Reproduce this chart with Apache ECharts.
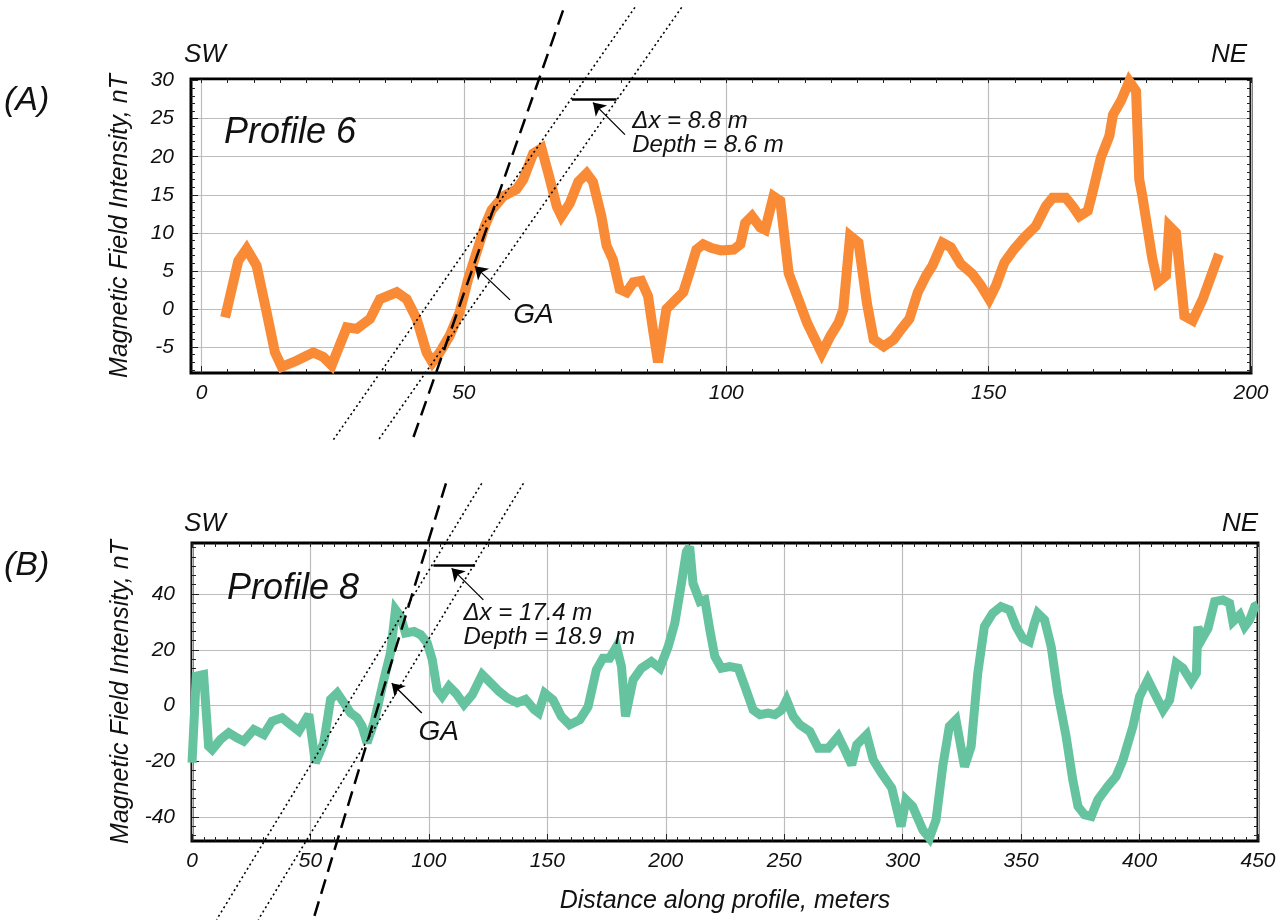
<!DOCTYPE html>
<html>
<head>
<meta charset="utf-8">
<title>Magnetic profiles 6 and 8</title>
<script src="https://cdn.jsdelivr.net/npm/echarts@6/dist/echarts.min.js"></script>
<style>
  html, body { margin: 0; padding: 0; background: #fff; }
  #main { width: 1285px; height: 922px; }
</style>
</head>
<body>
<div id="main"></div>
<script>
// Profile 6 (panel A), distance in m / field in nT
var profile6X = [4.5, 7.0, 8.6, 10.5, 12.4, 14.0, 15.3, 18.1, 21.3, 23.2, 24.8, 27.7, 29.6, 32.1, 34.0, 37.2, 39.1, 41.0, 42.9, 44.0,
  45.4, 47.3, 49.2, 50.8, 52.4, 54.0, 55.3, 57.5, 60.0, 61.3, 63.2, 64.8, 66.1, 67.7, 68.6, 70.2, 71.8, 73.4, 74.6, 76.2,
  77.2, 78.4, 79.7, 81.0, 82.3, 83.8, 85.1, 86.1, 87.0, 88.6, 90.5, 91.8, 93.0, 94.3, 95.6, 97.2, 99.0, 101.4, 102.7, 103.6,
  104.9, 106.5, 107.4, 109.0, 110.3, 111.9, 113.5, 115.4, 118.2, 119.8, 121.4, 122.3, 123.6, 125.2, 126.8, 128.1, 130.0, 131.9, 133.4, 134.9,
  136.5, 138.1, 139.3, 141.2, 142.8, 144.7, 146.9, 148.5, 150.1, 151.4, 153.0, 154.9, 156.8, 159.0, 160.9, 162.2, 164.7, 166.0, 167.3, 168.9,
  169.8, 171.4, 173.0, 173.7, 175.2, 176.8, 178.1, 178.7, 179.3, 181.2, 182.2, 183.8, 184.4, 185.7, 187.3, 188.9, 190.8, 193.9];
var profile6Y = [-1.1, 6.3, 7.9, 5.7, -0.4, -5.7, -7.6, -6.8, -5.7, -6.3, -7.4, -2.4, -2.6, -1.3, 1.3, 2.2, 1.3, -1.3, -5.7, -7.0,
  -5.7, -3.5, -0.4, 3.9, 7.4, 10.9, 13.0, 14.8, 15.7, 17.0, 20.4, 21.1, 17.8, 13.5, 12.2, 13.9, 16.7, 17.8, 16.7, 12.2,
  8.3, 6.5, 2.6, 2.2, 3.5, 3.7, 1.7, -3.0, -7.0, 0.0, 1.3, 2.2, 4.8, 7.8, 8.5, 8.0, 7.7, 7.8, 8.5, 11.3,
  12.2, 10.7, 10.4, 14.8, 14.2, 4.7, 1.7, -1.8, -5.8, -3.6, -1.8, -0.1, 9.6, 8.7, 0.8, -4.0, -4.9, -4.0, -2.6, -1.3,
  2.2, 4.4, 5.7, 8.7, 8.1, 5.9, 4.6, 3.1, 1.3, 3.1, 6.1, 7.9, 9.4, 10.9, 13.5, 14.6, 14.6, 13.5, 12.2, 12.9,
  15.3, 19.9, 22.7, 25.5, 27.3, 29.9, 28.6, 17.0, 14.8, 6.6, 3.5, 4.4, 10.9, 10.0, -0.9, -1.5, 1.3, 7.2];

// Profile 8 (panel B)
var profile8X = [0, 1.8, 4.9, 7.0, 8.5, 12.0, 15.5, 19.0, 21.8, 26.1, 30.3, 33.8, 38.0, 41.5, 45.1, 49.3, 52.1, 55.6, 58.5, 61.3,
  64.1, 66.9, 69.7, 71.8, 73.9, 76.8, 81.0, 83.8, 85.9, 88.0, 90.1, 93.7, 96.5, 99.3, 101.4, 103.5, 105.6, 108.5, 111.3, 114.8,
  118.3, 122.5, 126.1, 129.6, 133.1, 137.3, 140.8, 144.4, 146.3, 148.9, 152.4, 155.9, 159.4, 163.7, 167.2, 170.7, 173.5, 176.3, 179.2, 181.3,
  183.0, 186.2, 189.7, 193.9, 197.5, 201.0, 203.8, 206.6, 208.7, 210.1, 211.5, 214.4, 216.5, 218.6, 220.7, 223.5, 227.0, 230.6, 233.4, 236.9,
  239.7, 243.2, 246.1, 248.9, 251.0, 253.8, 256.6, 260.8, 264.4, 268.6, 272.8, 275.6, 278.5, 280.6, 284.8, 287.6, 291.1, 295.4, 299.3, 301.4,
  304.2, 308.5, 311.3, 314.1, 316.9, 319.7, 322.5, 326.1, 328.9, 331.7, 334.5, 338.0, 341.5, 345.1, 347.9, 350.7, 353.5, 355.6, 357.0, 359.9,
  362.7, 365.5, 369.0, 371.8, 374.0, 376.8, 379.6, 382.4, 386.6, 390.1, 393.0, 397.2, 400.0, 403.5, 407.0, 409.9, 412.7, 415.5, 418.3, 421.8,
  424.0, 424.6, 426.1, 428.9, 431.7, 435.2, 438.0, 439.4, 442.3, 444.4, 446.5, 448.6, 450.0];
var profile8Y = [-20.5, 10.5, 11.1, -14.6, -15.8, -12.2, -9.8, -11.6, -12.8, -8.6, -10.4, -5.6, -4.4, -6.8, -9.2, -3.2, -20.5, -13.4, 2.2, 4.5,
  1.0, -2.6, -4.4, -7.4, -13.4, -6.2, 9.3, 18.9, 34.4, 32.0, 26.0, 26.6, 25.4, 22.5, 16.5, 5.7, 3.3, 6.9, 4.5, 0.4,
  3.9, 11.1, 8.1, 5.1, 2.7, 1.0, 2.2, -1.4, -2.6, 4.4, 2.0, -3.9, -6.9, -5.1, -0.4, 12.8, 17.0, 17.0, 21.1, 14.0,
  -3.9, 9.2, 13.4, 15.8, 13.4, 21.1, 29.5, 43.8, 55.2, 57.0, 43.8, 37.3, 37.9, 27.1, 17.6, 13.4, 14.0, 13.4, 6.8, -1.6,
  -3.3, -2.7, -3.3, -1.6, 2.0, -3.9, -6.9, -9.3, -15.3, -15.3, -11.1, -15.9, -21.3, -14.1, -10.5, -19.5, -24.3, -29.6, -43.4, -33.8,
  -36.2, -44.6, -47.6, -41.0, -21.9, -7.5, -5.1, -21.9, -14.7, 11.6, 28.3, 33.1, 35.5, 34.3, 28.3, 24.1, 22.9, 29.5, 33.1, 30.7,
  21.1, 4.4, -11.1, -26.6, -36.2, -39.2, -39.8, -33.8, -29.0, -25.4, -19.5, -7.5, 3.2, 9.2, 3.2, -1.6, 2.0, 15.2, 13.4, 8.6,
  11.6, 28.3, 23.5, 27.7, 37.3, 37.9, 36.7, 30.1, 32.5, 28.3, 30.7, 35.5, 36.1];

// Interpretation lines: [x, y] end points, in data units
var gaLineA = [[68.9, 39.2], [40.0, -17.6]];
var edgeLeftA = [[82.6, 39.6], [25.1, -17.2]];
var edgeRightA = [[91.5, 39.6], [33.7, -17.2]];
var dxBarA = [[70.6, 27.5], [79.1, 27.5]];
var gaLineB = [[107.2, 79.7], [51.2, -76.8]];
var edgeLeftB = [[122.3, 79.7], [10.4, -76.8]];
var edgeRightB = [[139.9, 79.7], [28.0, -76.8]];
var dxBarB = [[101.9, 50.2], [119.5, 50.2]];

// Axis ticks
var ticksXA = [0, 50, 100, 150, 200];
var ticksYA = [-5, 0, 5, 10, 15, 20, 25, 30];
var ticksXB = [0, 50, 100, 150, 200, 250, 300, 350, 400, 450];
var ticksYB = [-40, -20, 0, 20, 40];

// Texts
var yName = 'Magnetic Field Intensity, nT';
var xName = 'Distance along profile, meters';
var dxTextA = 'Δx = 8.8 m\nDepth = 8.6 m';
var dxTextB = 'Δx = 17.4 m\nDepth = 18.9  m';

(function () {
  var chart = echarts.init(document.getElementById('main'));
  var font = 'Liberation Sans, Arial, sans-serif';

  function pairs(xs, ys) {
    return xs.map(function (x, i) { return [x, ys[i]]; });
  }

  // small ticks on a fixed step
  function steps(min, max, step) {
    var out = [];
    var v = Math.ceil(min / step) * step;
    for (; v <= max + 1e-9; v += step) {
      out.push(Math.round(v * 1000) / 1000);
    }
    return out;
  }

  var labelStyle = { fontFamily: font, fontStyle: 'italic', fontSize: 21, color: '#111' };
  var tickLine = { color: '#222', width: 1 };
  var gridLine = { color: '#bdbdbd', width: 1.2 };

  function bare(grid, range, pos) {
    return {
      type: 'value', gridIndex: grid, min: range[0], max: range[1], position: pos,
      axisLine: { show: false, onZero: false }, axisLabel: { show: false }, splitLine: { show: false },
      axisTick: { show: false }
    };
  }

  // main axis + minor ticks on same side + mirrored ticks on opposite side
  function axesFor(dim, grid, range, majors, minorStep, opts) {
    var sides = dim === 'x' ? ['bottom', 'top'] : ['left', 'right'];
    var minors = steps(range[0], range[1], minorStep);

    var main = bare(grid, range, sides[0]);
    main.axisTick = { show: true, inside: true, length: 7, customValues: majors, lineStyle: tickLine };
    main.axisLabel = Object.assign({ show: true, customValues: majors, margin: opts.margin }, labelStyle);
    main.splitLine = { show: true, lineStyle: gridLine };
    if (opts.name) {
      main.name = opts.name;
      main.nameLocation = 'middle';
      main.nameGap = opts.nameGap;
      main.nameTextStyle = { fontFamily: font, fontStyle: 'italic', fontSize: 25, color: '#111' };
    }

    var minor = bare(grid, range, sides[0]);
    minor.axisTick = { show: true, inside: true, length: 4, customValues: minors, lineStyle: tickLine };

    var mirror = bare(grid, range, sides[1]);
    mirror.axisTick = { show: true, inside: true, length: 4, customValues: minors, lineStyle: tickLine };

    return [main, minor, mirror];
  }

  var rangeXA = [-2, 200];
  var rangeYA = [-8.4, 30.2];
  var rangeXB = [0, 450];
  var rangeYB = [-48.6, 58.3];

  var xAxes = [].concat(
    axesFor('x', 0, rangeXA, ticksXA, 5, { margin: 10 }),
    axesFor('x', 1, rangeXB, ticksXB, 5, { margin: 10, name: xName, nameGap: 48 })
  );
  var yAxes = [].concat(
    axesFor('y', 0, rangeYA, ticksYA, 1, { margin: 17, name: yName, nameGap: 58 }),
    axesFor('y', 1, rangeYB, ticksYB, 20 / 6, { margin: 17, name: yName, nameGap: 58 })
  );

  function profile(data, color, width, axis) {
    return {
      type: 'line', data: data, xAxisIndex: axis, yAxisIndex: axis,
      symbol: 'none', clip: false, z: 3,
      lineStyle: { color: color, width: width, join: 'miter', miterLimit: 3 }
    };
  }

  function guide(data, type, width, axis) {
    return {
      type: 'line', data: data, xAxisIndex: axis, yAxisIndex: axis,
      symbol: 'none', clip: false, silent: true, z: 4,
      itemStyle: { color: '#000' },
      lineStyle: { color: '#000', width: width, type: type, cap: 'butt' }
    };
  }

  // Δx bar with its arrows and notes
  function notes(bar, axis, dxArrow, gaArrow, dxAt, gaAt, dxText) {
    var s = guide(bar, 'solid', 2.5, axis);
    s.markLine = {
      silent: true, symbol: ['none', 'arrow'], symbolSize: 12,
      label: { show: false },
      itemStyle: { color: '#000' },
      lineStyle: { color: '#000', width: 1.3, type: 'solid' },
      data: [
        [{ coord: dxArrow[0] }, { coord: dxArrow[1] }],
        [{ coord: gaArrow[0] }, { coord: gaArrow[1] }]
      ]
    };
    s.markPoint = {
      silent: true, symbol: 'circle', symbolSize: 1,
      itemStyle: { color: 'rgba(0,0,0,0)' },
      data: [
        {
          coord: dxAt,
          label: { show: true, position: 'right', distance: 0, formatter: dxText, align: 'left',
            fontFamily: font, fontStyle: 'italic', fontSize: 24, lineHeight: 24, color: '#111' }
        },
        {
          coord: gaAt,
          label: { show: true, position: 'right', distance: 0, formatter: 'GA', align: 'left',
            fontFamily: font, fontStyle: 'italic', fontSize: 28, color: '#111' }
        }
      ]
    };
    return s;
  }

  var series = [
    profile(pairs(profile6X, profile6Y), '#f98b37', 10, 0),
    guide(gaLineA, [15, 8], 2.5, 0),
    guide(edgeLeftA, [2, 3], 1.6, 0),
    guide(edgeRightA, [2, 3], 1.6, 0),
    notes(dxBarA, 0, [[80.7, 22.9], [74.6, 27.1]], [[58.8, 1.2], [52.1, 5.6]], [82.0, 23.1], [59.3, -0.75], dxTextA),

    profile(pairs(profile8X, profile8Y), '#66c3a0', 9, 3),
    guide(gaLineB, [15, 8], 2.5, 3),
    guide(edgeLeftB, [2, 3], 1.6, 3),
    guide(edgeRightB, [2, 3], 1.6, 3),
    notes(dxBarB, 3, [[123.0, 37.9], [109.6, 49.2]], [[97.0, -2.7], [84.3, 8.0]], [114.4, 28.7], [95.4, -9.4], dxTextB)
  ];

  function text(str, x, y, size, align) {
    return {
      type: 'text', x: x, y: y, silent: true, z: 10,
      style: { text: str, fill: '#111', fontFamily: font, fontStyle: 'italic', fontSize: size,
        align: align || 'left', verticalAlign: 'middle' }
    };
  }

  chart.setOption({
    backgroundColor: '#fff',
    animation: false,
    grid: [
      { left: 191, top: 79, width: 1060, height: 294, show: true, borderColor: '#000', borderWidth: 3, backgroundColor: 'transparent' },
      { left: 192, top: 543, width: 1066, height: 298, show: true, borderColor: '#000', borderWidth: 3, backgroundColor: 'transparent' }
    ],
    xAxis: xAxes,
    yAxis: yAxes,
    series: series,
    graphic: [
      text('(A)', 4, 101, 34),
      text('(B)', 4, 566, 34),
      text('SW', 184, 55, 26),
      text('NE', 1247, 55, 26, 'right'),
      text('SW', 184, 524, 26),
      text('NE', 1258, 524, 26, 'right'),
      text('Profile 6', 224, 133, 36),
      text('Profile 8', 227, 589, 36)
    ]
  });
})();
</script>
</body>
</html>
